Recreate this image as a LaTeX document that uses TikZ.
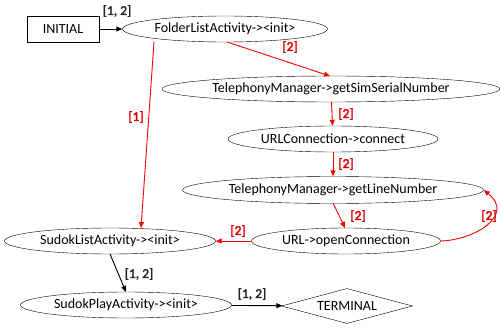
\documentclass[tikz,border=0pt]{standalone}
\usepackage{fontspec}
\setmainfont{Carlito}
\newfontfamily\lblfont{Carlito}[FakeBold=2.5]
\usetikzlibrary{shapes.geometric,arrows.meta}
\begin{document}
\begin{tikzpicture}[x=1pt,y=-1pt,
  ell/.style={draw,ellipse,inner sep=0pt,font=\fontsize{14}{16}\selectfont},
  box/.style={draw,rectangle,inner sep=0pt,font=\fontsize{14}{16}\selectfont},
  dia/.style={draw,diamond,aspect=3.7,inner sep=0pt,font=\fontsize{14}{16}\selectfont},
  blk/.style={draw=black,line width=0.9pt,-{Triangle[length=6pt,width=5pt]}},
  redl/.style={draw=red,line width=0.9pt,-{Triangle[length=6pt,width=5pt]}},
  lb/.style={font=\fontsize{13.5}{15}\lblfont,text=black!85},
  lr/.style={font=\fontsize{13.5}{15}\lblfont,text=red!85!black}]
\useasboundingbox (0,0) rectangle (501,329);
\node[box,minimum width=72,minimum height=26] (init) at (63,29) {INITIAL};
\node[ell,minimum width=205,minimum height=26] (fl) at (225,29) {FolderListActivity->{<}init{>}};
\node[ell,minimum width=338,minimum height=26] (sim) at (331,89) {TelephonyManager->getSimSerialNumber};
\node[ell,minimum width=210,minimum height=26] (uc) at (333,139) {URLConnection->connect};
\node[ell,minimum width=301,minimum height=27] (ln) at (333,190) {TelephonyManager->getLineNumber};
\node[ell,minimum width=211,minimum height=26] (sl) at (110,241) {SudokListActivity->{<}init{>}};
\node[ell,minimum width=189,minimum height=26] (oc) at (346,241) {URL->openConnection};
\node[ell,minimum width=211,minimum height=26] (sp) at (126,305) {SudokPlayActivity->{<}init{>}};
\node[dia,minimum width=131,minimum height=35] (term) at (347,306) {TERMINAL};

\coordinate (flA) at (227,42);
\coordinate (simA) at (330,76);
\coordinate (flB) at (154,42);
\coordinate (slA) at (141,228);
\coordinate (lnA) at (333,203);
\coordinate (ocA) at (345,228);
\coordinate (slB) at (110,254);
\coordinate (spA) at (126,292);

\draw[blk] (init) -- (fl);
\draw[redl] (flA) -- (simA);
\draw[redl] (flB) -- (slA);
\draw[redl] (sim) -- (uc);
\draw[redl] (uc) -- (ln);
\draw[redl] (lnA) -- (ocA);
\draw[redl] (oc) -- (sl);
\draw[redl] (oc.east) .. controls (475,240) and (515,215) .. (ln.east);
\draw[blk] (slB) -- (spA);
\draw[blk] (sp) -- (term);

\node[lb] (l1) at (117,11) {[1, 2]};
\node[lr] (l2) at (290,47) {[2]};
\node[lr] (l3) at (136,117) {[1]};
\node[lr] (l4) at (346,114) {[2]};
\node[lr] (l5) at (346,164) {[2]};
\node[lr] (l6) at (358,216) {[2]};
\node[lr] (l7) at (489,216) {[2]};
\node[lr] (l8) at (238,231) {[2]};
\node[lb] (l9) at (139,274) {[1, 2]};
\node[lb] (l10) at (252,294) {[1, 2]};
\end{tikzpicture}
\end{document}
